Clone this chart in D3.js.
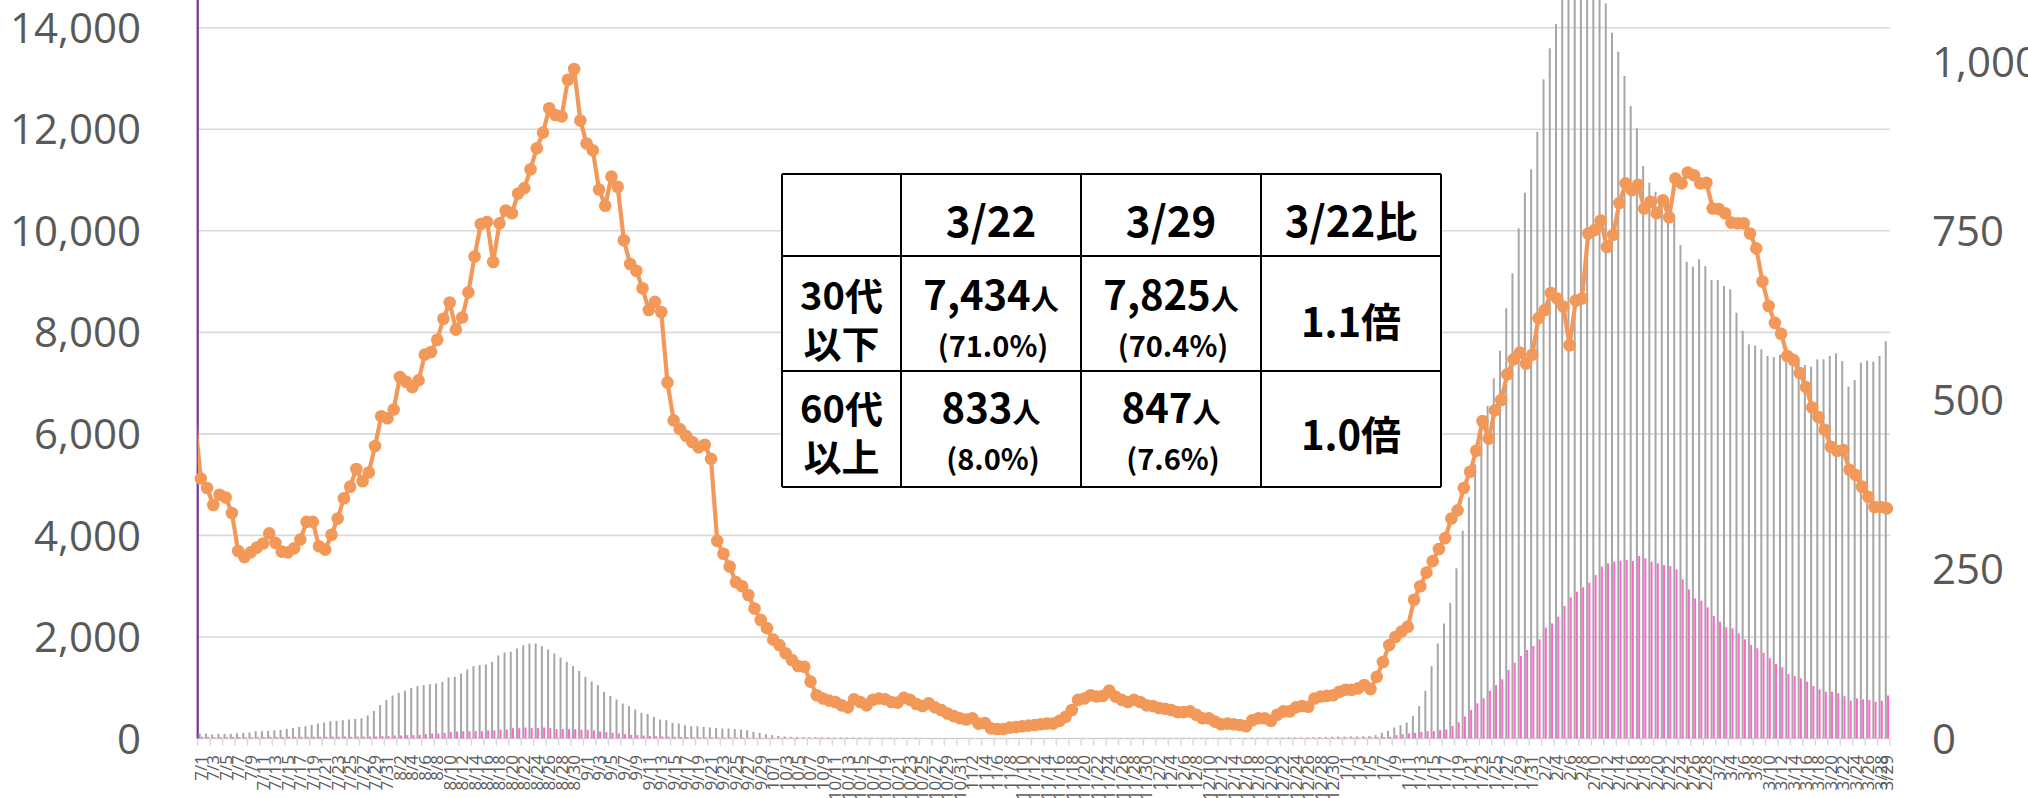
<!DOCTYPE html>
<html>
<head>
<meta charset="utf-8">
<script src="https://cdn.jsdelivr.net/npm/d3@7"></script>
<style>
  body { margin: 0; background: #fff; }
  svg { display: block; }
</style>
</head>
<body>
<svg id="chart" width="2028" height="798"></svg>
<script>
// Daily series from 2021/7/1 to 2022/3/29 (one category per day).
var dates = d3.timeDay.range(new Date(2021, 6, 1), new Date(2022, 2, 30));

// Gray bars: 30代以下 (left axis)
var under30 = [98,98,79,92,92,92,105,112,118,144,144,151,164,171,190,204,230,243,269,295,315,341,348,361,374,387,400,
  453,545,657,755,847,899,939,998,1031,1050,1070,1083,1116,1201,1215,1280,1359,1425,1444,1457,1510,1635,1694,1707,1773,1838,1871,1871,
  1819,1753,1674,1595,1510,1425,1333,1215,1123,1050,919,840,768,689,637,571,505,485,
  427,374,361,309,295,263,243,243,230,217,210,197,197,184,177,164,131,112,85,66,53,40,
  33,30,28,26,25,24,23,22,21,20,19,18,17,16,15,15,14,13,13,12,12,11,11,10,10,10,9,9,
  9,9,8,8,8,8,8,8,9,9,9,9,9,9,9,10,10,10,10,10,10,10,11,11,11,11,11,11,11,12,
  12,12,12,12,12,13,13,13,13,13,13,14,14,14,14,15,15,16,17,18,19,20,21,22,23,24,26,28,30,33,37,
  38,40,42,44,50,66,112,151,217,263,315,440,637,939,1425,1871,2265,2672,3352,4093,4750,5400,6000,6550,
  7094,7638,8473,9162,10049,10750,11211,11952,12983,13594,14073,14700,15200,15700,16000,16200,16000,15400,14480,13902,
  13527,13048,12458,12018,11276,10947,10770,10705,10573,10245,9720,9391,9293,9438,9306,9030,9030,8912,8847,8387,
  8032,7764,7740,7665,7534,7510,7560,7520,7470,7450,7357,7323,7468,7468,7534,7586,7434,6930,7061,7402,
  7441,7422,7534,7825];

// Pink bars: 60代以上 (left axis)
var over60 = [33,33,26,26,26,26,26,26,26,26,26,33,33,33,33,33,33,33,33,33,33,39,33,39,33,39,39,39,39,46,
  46,59,59,66,66,72,85,98,98,112,125,138,144,144,144,144,158,158,171,177,204,204,217,204,204,217,204,184,184,184,
  184,171,171,158,138,125,112,98,85,72,66,59,
  52,46,40,36,33,30,28,26,24,22,20,19,18,17,16,15,14,13,12,
  11,10,10,9,9,8,8,8,7,7,7,6,6,6,6,5,5,5,5,5,5,4,4,4,4,4,4,4,4,3,3,3,
  3,3,3,3,3,3,3,3,3,3,3,3,3,3,3,3,3,3,3,3,3,3,3,3,3,3,3,3,3,3,
  3,3,3,3,3,3,3,3,3,3,3,3,3,3,3,4,4,
  5,5,6,6,7,7,8,8,9,9,10,10,11,12,
  13,14,15,17,20,24,28,
  33,66,85,98,112,131,144,144,164,177,
  245,320,435,561,693,791,942,1054,1165,1349,1493,1625,1743,1822,1953,2183,2268,2399,2610,2780,
  2892,2977,3069,3220,3384,3450,3483,3502,3516,3496,3595,3548,3483,3450,3417,3397,3332,3135,2938,2760,
  2714,2583,2413,2301,2189,2170,2071,1953,1842,1776,1690,1579,1467,1401,1270,1231,1185,1119,1034,968,
  922,922,890,833,745,791,771,758,725,745,847];

// Orange line (right axis)
var orangeLine = [384,370,345,360,356,333,277,268,275,282,288,303,289,276,275,281,294,320,320,284,
  279,301,325,355,372,398,380,393,432,476,473,486,534,527,519,529,567,571,589,620,
  644,604,622,659,712,760,763,704,761,780,776,805,813,841,872,895,931,921,919,973,
  989,913,879,869,811,787,830,815,736,701,691,665,633,645,630,526,470,
  457,447,438,430,434,413,292,273,254,231,225,212,
  192,175,163,146,138,126,116,107,106,84,64,59,56,54,49,46,58,54,49,57,
  59,58,54,53,60,57,51,48,52,46,42,37,33,30,28,30,22,23,15,14,
  14,16,17,18,19,20,21,22,22,26,32,42,57,59,64,
  62,63,71,62,57,54,57,54,49,48,45,44,42,39,39,40,35,30,30,25,
  21,22,21,20,18,27,30,30,26,35,40,40,46,48,47,59,62,63,64,69,
  72,72,74,79,73,91,113,138,150,158,165,205,
  225,245,262,280,296,325,337,370,394,425,469,443,485,500,538,560,570,554,567,621,
  633,658,650,638,581,647,650,
  746,751,765,726,744,791,820,810,818,783,793,776,795,770,827,820,836,832,820,821,
  783,782,776,762,761,761,746,724,675,639,614,598,565,559,540,
  519,489,475,456,431,425,426,397,389,372,357,342,342,340];
var orangeBefore = 475; // 6/30, only the segment entering the plot is seen

var leftTicks = [0, 2000, 4000, 6000, 8000, 10000, 12000, 14000];
var rightTicks = [0, 250, 500, 750, 1000];

// Summary table
var tableHeader = ["", "3/22", "3/29", "3/22比"];
var rowLabels = [["30代", "以下"], ["60代", "以上"]];
var count322 = ["7,434", "833"];
var pct322 = ["71.0%", "8.0%"];
var count329 = ["7,825", "847"];
var pct329 = ["70.4%", "7.6%"];
var ratio = ["1.1倍", "1.0倍"];

var svg = d3.select("#chart");
var plotL = 197.7, plotR = 1890, plotT = 27.7, plotB = 738.5;
var axisFont = "'Open Sans', 'Liberation Sans', sans-serif";
var textGray = "#595959";

var x = d3.scaleBand().domain(d3.range(dates.length))
  .range([plotL, plotR]).paddingInner(0.32).paddingOuter(0.16);
var yL = d3.scaleLinear().domain([0, 14000]).range([plotB, plotT]);
var yR = d3.scaleLinear().domain([0, 1050]).range([plotB, plotT]);
var step = x.step();
function cx(i) { return x(0) + x.bandwidth() / 2 + i * step; }

var sub = d3.scaleBand().domain(["g", "p"]).range([0, x.bandwidth()]).paddingInner(0.12);

// gridlines
svg.append("g").selectAll("line").data(leftTicks).enter().append("line")
  .attr("x1", plotL).attr("x2", plotR)
  .attr("y1", function(d) { return yL(d); }).attr("y2", function(d) { return yL(d); })
  .attr("stroke", "#d9d9d9").attr("stroke-width", 1.6);

// category ticks every 2 days
var tickIdx = d3.range(0, dates.length + 1, 2);
svg.append("g").selectAll("line").data(tickIdx).enter().append("line")
  .attr("x1", function(i) { return cx(i) - step / 2; })
  .attr("x2", function(i) { return cx(i) - step / 2; })
  .attr("y1", plotB).attr("y2", plotB + 7)
  .attr("stroke", "#d9d9d9").attr("stroke-width", 1.5);

// x labels
var fmt = d3.timeFormat("%-m/%-d");
var labelIdx = d3.range(0, dates.length, 2);
labelIdx.push(dates.length - 1);
svg.append("g").attr("font-family", axisFont).attr("font-size", 17).attr("fill", textGray)
  .selectAll("text").data(labelIdx).enter().append("text")
  .attr("transform", function(i) { return "translate(" + cx(i) + "," + plotB + ") rotate(-90)"; })
  .attr("x", -16.5).attr("dy", "0.35em").attr("text-anchor", "end")
  .text(function(i) { return fmt(dates[i]); });

// purple value axis line
svg.append("line").attr("x1", plotL).attr("x2", plotL).attr("y1", 0).attr("y2", plotB)
  .attr("stroke", "#7030a0").attr("stroke-width", 2.2);

// bars
svg.append("g").selectAll("rect").data(under30).enter().append("rect")
  .attr("x", function(d, i) { return x(i) + sub("g"); })
  .attr("width", sub.bandwidth())
  .attr("y", function(d) { return yL(d); })
  .attr("height", function(d) { return plotB - yL(d); })
  .attr("fill", "#a6a6a6");
svg.append("g").selectAll("rect").data(over60).enter().append("rect")
  .attr("x", function(d, i) { return x(i) + sub("p"); })
  .attr("width", sub.bandwidth())
  .attr("y", function(d) { return yL(d); })
  .attr("height", function(d) { return plotB - yL(d); })
  .attr("fill", "#ff66cc");

// orange line with markers
svg.append("clipPath").attr("id", "plotclip").append("rect")
  .attr("x", plotL).attr("y", 0).attr("width", plotR - plotL + 20).attr("height", plotB);
var pts = [{ i: -1, v: orangeBefore }].concat(orangeLine.map(function(v, i) { return { i: i, v: v }; }));
svg.append("path").datum(pts)
  .attr("clip-path", "url(#plotclip)")
  .attr("d", d3.line().x(function(d) { return cx(d.i); }).y(function(d) { return yR(d.v); }))
  .attr("fill", "none").attr("stroke", "#f2995a").attr("stroke-width", 4.2)
  .attr("stroke-linejoin", "round");
svg.append("g").selectAll("circle").data(orangeLine).enter().append("circle")
  .attr("cx", function(d, i) { return cx(i); })
  .attr("cy", function(d) { return yR(d); })
  .attr("r", 6.3).attr("fill", "#f2995a");

// axis labels
svg.append("g").attr("font-family", axisFont).attr("font-size", 42).attr("fill", textGray)
  .selectAll("text").data(leftTicks).enter().append("text")
  .attr("x", 141).attr("y", function(d) { return yL(d); }).attr("dy", "0.36em")
  .attr("text-anchor", "end").text(d3.format(","));
svg.append("g").attr("font-family", axisFont).attr("font-size", 42).attr("fill", textGray)
  .selectAll("text").data(rightTicks).enter().append("text")
  .attr("x", 1932).attr("y", function(d) { return yR(d); }).attr("dy", "0.36em")
  .attr("text-anchor", "start").text(d3.format(","));

// table
var colX = [782, 901, 1081, 1261, 1441];
var rowY = [174, 256, 371, 487];
var tbl = svg.append("g").attr("font-family", "'Noto Sans CJK JP', sans-serif")
  .attr("font-weight", "bold").attr("fill", "#000");
tbl.append("rect").attr("x", colX[0]).attr("y", rowY[0])
  .attr("width", colX[4] - colX[0]).attr("height", rowY[3] - rowY[0]).attr("fill", "#fff");
colX.forEach(function(cxv) {
  tbl.append("line").attr("x1", cxv).attr("x2", cxv).attr("y1", rowY[0]).attr("y2", rowY[3])
    .attr("stroke", "#000").attr("stroke-width", 2);
});
rowY.forEach(function(ry) {
  tbl.append("line").attr("x1", colX[0]).attr("x2", colX[4]).attr("y1", ry).attr("y2", ry)
    .attr("stroke", "#000").attr("stroke-width", 2);
});
function colMid(j) { return (colX[j] + colX[j + 1]) / 2; }
tableHeader.forEach(function(h, j) {
  if (!h) return;
  tbl.append("text").attr("x", colMid(j)).attr("y", 237).attr("text-anchor", "middle")
    .attr("font-size", 42).text(h);
});
var line1Y = [310, 423], line2Y = [357, 470], ratioY = [337, 450];
rowLabels.forEach(function(lab, r) {
  tbl.append("text").attr("x", colMid(0)).attr("y", line1Y[r]).attr("text-anchor", "middle")
    .attr("font-size", 38).text(lab[0]);
  tbl.append("text").attr("x", colMid(0)).attr("y", line2Y[r] + 1).attr("text-anchor", "middle")
    .attr("font-size", 38).text(lab[1]);
  [[count322, pct322, 1], [count329, pct329, 2]].forEach(function(c) {
    var t = tbl.append("text").attr("x", colMid(c[2])).attr("y", line1Y[r]).attr("text-anchor", "middle");
    t.append("tspan").attr("font-size", 40).text(c[0][r]);
    t.append("tspan").attr("font-size", 28).text("人");
    tbl.append("text").attr("x", colMid(c[2]) + 2).attr("y", line2Y[r]).attr("text-anchor", "middle")
      .attr("font-size", 29).text("(" + c[1][r] + ")");
  });
  tbl.append("text").attr("x", colMid(3)).attr("y", ratioY[r]).attr("text-anchor", "middle")
    .attr("font-size", 40).text(ratio[r]);
});
</script>
</body>
</html>
